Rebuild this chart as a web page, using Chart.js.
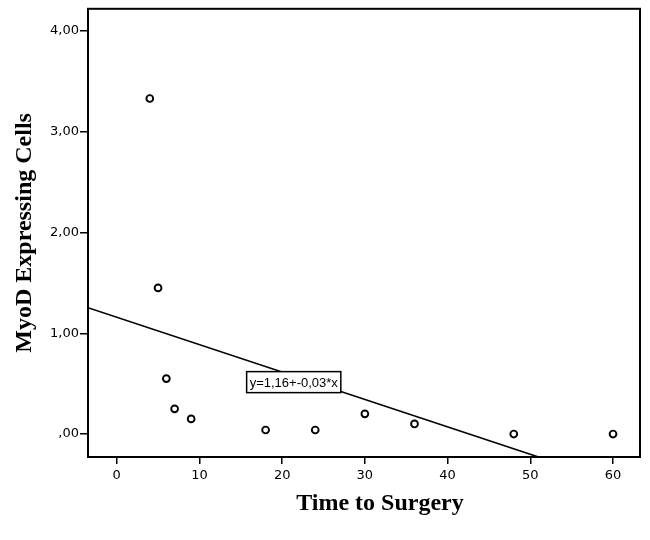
<!DOCTYPE html>
<html>
<head>
<meta charset="utf-8">
<script src="https://cdn.jsdelivr.net/npm/chart.js@4.4.1/dist/chart.umd.min.js"></script>
<style>
  html, body { margin: 0; padding: 0; background: #fff; }
  #wrap { width: 650px; height: 540px; }
</style>
</head>
<body>
<div id="wrap"><canvas id="chart" width="650" height="540"></canvas></div>
<script>
// time to surgery (x) and MyoD expressing cells (y)
const timeToSurgery = [4, 5, 6, 7, 9, 18, 24, 30, 36, 48, 60];
const myodCells = [3.33, 1.45, 0.55, 0.25, 0.15, 0.04, 0.04, 0.2, 0.1, 0, 0];

// fit line shown in the plot
const fitIntercept = 1.159;
const fitSlope = -0.0272;
const fitLabel = 'y=1,16+-0,03*x';
const fitLabelAt = [21.4, 0.515];

const xTicks = [0, 10, 20, 30, 40, 50, 60];
const yTicks = [0, 1, 2, 3, 4];
const xRange = [-3.47, 63.26];
const yRange = [-0.228, 4.22];

const xTitle = 'Time to Surgery';
const yTitle = 'MyoD Expressing Cells';

const points = timeToSurgery.map((t, i) => ({ x: t, y: myodCells[i] }));
const fitLine = xRange.map(x => ({ x: x, y: fitIntercept + fitSlope * x }));

const tickFont = { family: 'DejaVu Sans', size: 13 };

const framePlugin = {
    id: 'frame',
    afterDraw(chart) {
        const { ctx, chartArea: a, scales } = chart;
        ctx.save();
        // box round the plot
        ctx.strokeStyle = '#000';
        ctx.lineWidth = 2;
        ctx.strokeRect(a.left, a.top, a.right - a.left, a.bottom - a.top);

        // fit label box
        const lx = scales.x.getPixelForValue(fitLabelAt[0]);
        const ly = scales.y.getPixelForValue(fitLabelAt[1]);
        ctx.font = '13px "Liberation Sans"';
        const w = ctx.measureText(fitLabel).width + 6;
        const h = 21;
        ctx.fillStyle = '#fff';
        ctx.fillRect(lx - w / 2, ly - h / 2, w, h);
        ctx.lineWidth = 1.5;
        ctx.strokeRect(lx - w / 2, ly - h / 2, w, h);
        ctx.fillStyle = '#000';
        ctx.textAlign = 'center';
        ctx.textBaseline = 'middle';
        ctx.fillText(fitLabel, lx, ly + 1);

        // axis titles
        ctx.font = 'bold 24px "Liberation Serif"';
        ctx.fillText(xTitle, 380, 504);
        ctx.translate(25, (a.top + a.bottom) / 2);
        ctx.rotate(-Math.PI / 2);
        ctx.fillText(yTitle, 0, 0);
        ctx.restore();
    }
};

new Chart(document.getElementById('chart'), {
    type: 'scatter',
    data: {
        datasets: [
            {
                type: 'line',
                data: fitLine,
                borderColor: '#000',
                borderWidth: 1.6,
                pointRadius: 0,
                fill: false,
                order: 2,
            },
            {
                data: points,
                pointStyle: 'circle',
                pointRadius: 3.4,
                pointBorderWidth: 1.9,
                pointBorderColor: '#000',
                pointBackgroundColor: '#fff',
                order: 1,
            },
        ],
    },
    options: {
        responsive: false,
        animation: false,
        devicePixelRatio: 1,
        layout: { padding: { top: 7, right: 10, left: 0, bottom: 0 } },
        plugins: {
            legend: { display: false },
            tooltip: { enabled: false },
        },
        scales: {
            x: {
                type: 'linear',
                min: xRange[0],
                max: xRange[1],
                afterBuildTicks: (s) => { s.ticks = xTicks.map(v => ({ value: v })); },
                afterFit: (s) => { s.height = 83; },
                border: { color: '#000', width: 2 },
                grid: { drawOnChartArea: false, color: '#000', lineWidth: 1.5, tickLength: 7 },
                ticks: { color: '#000', font: tickFont, padding: 4, maxRotation: 0 },
            },
            y: {
                type: 'linear',
                min: yRange[0],
                max: yRange[1],
                afterBuildTicks: (s) => { s.ticks = yTicks.map(v => ({ value: v })); },
                afterFit: (s) => { s.width = 88; },
                border: { color: '#000', width: 2 },
                grid: { drawOnChartArea: false, color: '#000', lineWidth: 1.5, tickLength: 8 },
                ticks: {
                    color: '#000',
                    font: tickFont,
                    padding: 1,
                    callback: (v) => v.toFixed(2).replace('.', ',').replace(/^0,/, ','),
                },
            },
        },
    },
    plugins: [framePlugin],
});
</script>
</body>
</html>
